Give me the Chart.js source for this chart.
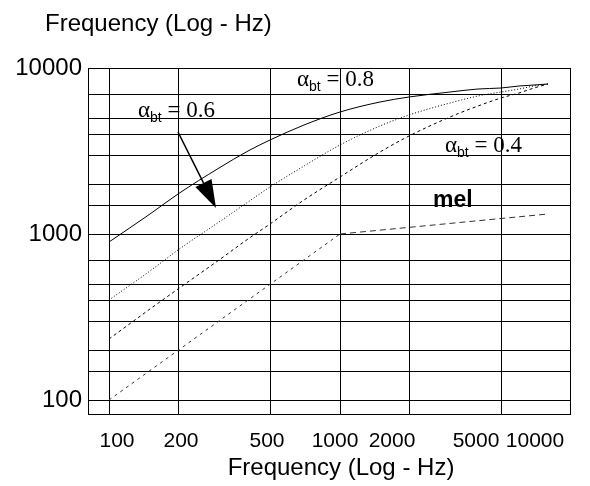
<!DOCTYPE html>
<html>
<head>
<meta charset="utf-8">
<script src="https://cdn.jsdelivr.net/npm/chart.js@4/dist/chart.umd.min.js"></script>
<style>
  body { margin: 0; background: #fff; }
  #wrap { width: 590px; height: 486px; }
</style>
</head>
<body>
<div id="wrap"><canvas id="warp-chart"></canvas></div>
<script>
// input frequencies (Hz) where the warped curves were read
const freqs = [100, 150, 200, 300, 400, 500, 700, 1000, 1500, 2000, 3000, 4000, 5000, 6000, 7000, 8000];
// warped frequency (Hz) for each alpha
const alpha08 = [891, 1320, 1731, 2485, 3138, 3695, 4553, 5405, 6214, 6665, 7161, 7436, 7623, 7766, 7887, 8000];
const alpha06 = [399, 597, 794, 1180, 1554, 1911, 2572, 3423, 4487, 5234, 6176, 6752, 7157, 7474, 7747, 8000];
const alpha04 = [233, 350, 466, 696, 925, 1151, 1590, 2213, 3136, 3913, 5097, 5938, 6579, 7105, 7567, 8000];
// mel curve: straight up to 1000 Hz then flattens out
const melFreqs = [100, 1000, 8000];
const melValues = [100, 1000, 1310];

const xTicks = [100, 200, 500, 1000, 2000, 5000, 10000];
const yTicks = [100, 150, 200, 300, 400, 500, 700, 1000, 1500, 2000, 3000, 4000, 5000, 7000, 10000];
const yLabels = [100, 1000, 10000];

// curve labels in data units (left edge, baseline)
const alphaLabels = [
  { text: '0.6', x: 133, y: 5090 },
  { text: '0.8', x: 652, y: 7820 },
  { text: '0.4', x: 2870, y: 3130 },
];
const melLabel = { text: 'mel', x: 2550, y: 1455 };
// arrow pointing from the 0.6 label to its curve
const arrowFrom = [200, 4130];
const arrowTo = [292, 1429];

const toPoints = (xs, ys) => xs.map((f, i) => ({ x: f, y: ys[i] }));

const SANS = '"Liberation Sans", Arial, sans-serif';
const SERIF = '"Liberation Serif", "Times New Roman", serif';

// the original x labels sit a little off their grid lines, more so on the right
const xLabelNudge = [8, 3, -3, -5, -17, -25, -35];

const annotations = {
  id: 'annotations',
  afterDraw(chart) {
    const { ctx, scales: { x, y } } = chart;
    ctx.save();
    ctx.fillStyle = '#000';
    ctx.strokeStyle = '#000';
    ctx.textAlign = 'left';
    ctx.textBaseline = 'alphabetic';

    alphaLabels.forEach(l => {
      let px = x.getPixelForValue(l.x);
      const py = y.getPixelForValue(l.y);
      ctx.font = '23px ' + SERIF;
      ctx.fillText('\u03b1', px, py);
      px += ctx.measureText('\u03b1').width;
      ctx.font = '14px ' + SANS;
      ctx.fillText('bt', px, py + 5);
      px += ctx.measureText('bt').width;
      ctx.font = '23px ' + SERIF;
      ctx.fillText(' = ' + l.text, px, py);
    });

    ctx.font = 'bold 23px ' + SANS;
    ctx.fillText(melLabel.text, x.getPixelForValue(melLabel.x), y.getPixelForValue(melLabel.y));

    // arrow
    const x0 = x.getPixelForValue(arrowFrom[0]), y0 = y.getPixelForValue(arrowFrom[1]);
    const x1 = x.getPixelForValue(arrowTo[0]), y1 = y.getPixelForValue(arrowTo[1]);
    const len = Math.hypot(x1 - x0, y1 - y0);
    const ux = (x1 - x0) / len, uy = (y1 - y0) / len;
    const headLen = 28, headHalf = 9;
    const bx = x1 - ux * headLen, by = y1 - uy * headLen;
    ctx.lineWidth = 1.5;
    ctx.beginPath();
    ctx.moveTo(x0, y0);
    ctx.lineTo(bx, by);
    ctx.stroke();
    ctx.beginPath();
    ctx.moveTo(x1, y1);
    ctx.lineTo(bx - uy * headHalf, by + ux * headHalf);
    ctx.lineTo(bx + uy * headHalf, by - ux * headHalf);
    ctx.closePath();
    ctx.fill();

    // x tick labels
    ctx.font = '21px ' + SANS;
    ctx.textAlign = 'center';
    x.ticks.forEach((t, i) => {
      const cx = x.getPixelForValue(t.value) + (xLabelNudge[i] || 0);
      ctx.fillText(String(t.value), cx, chart.chartArea.bottom + 33);
    });

    // axis titles
    ctx.font = '24px ' + SANS;
    ctx.textAlign = 'left';
    ctx.fillText('Frequency (Log - Hz)', 45, 31);
    ctx.textAlign = 'center';
    ctx.fillText('Frequency (Log - Hz)', 341, 475);
    ctx.restore();
  }
};

const lineDefaults = { borderColor: '#000', borderWidth: 1, pointRadius: 0, fill: false, cubicInterpolationMode: 'monotone' };

new Chart(document.getElementById('warp-chart'), {
  type: 'line',
  data: {
    datasets: [
      { ...lineDefaults, label: 'alpha 0.8', data: toPoints(freqs, alpha08) },
      { ...lineDefaults, label: 'alpha 0.6', data: toPoints(freqs, alpha06), borderDash: [1, 2] },
      { ...lineDefaults, label: 'alpha 0.4', data: toPoints(freqs, alpha04), borderDash: [3, 3] },
      {
        ...lineDefaults, label: 'mel', data: toPoints(melFreqs, melValues), borderColor: '#333',
        cubicInterpolationMode: 'default', tension: 0,
        segment: { borderDash: c => c.p0.parsed.x < 1000 ? [3, 4] : [6, 4] }
      },
    ]
  },
  options: {
    responsive: true,
    maintainAspectRatio: false,
    animation: false,
    layout: { padding: { top: 68, right: 20, bottom: 32, left: 0 } },
    plugins: { legend: { display: false }, tooltip: { enabled: false }, title: { display: false } },
    scales: {
      x: {
        type: 'logarithmic',
        min: 81,
        max: 10000,
        bounds: 'data',
        alignToPixels: true,
        afterBuildTicks: s => { s.ticks = xTicks.map(v => ({ value: v })); },
        afterFit: s => { s.height = 40; s.paddingLeft = 0; s.paddingRight = 0; },
        ticks: { display: false, autoSkip: false },
        grid: { color: '#000', lineWidth: 1, drawTicks: false },
        border: { color: '#000', width: 1 },
      },
      y: {
        type: 'logarithmic',
        min: 82,
        max: 10000,
        bounds: 'data',
        alignToPixels: true,
        afterBuildTicks: s => { s.ticks = yTicks.map(v => ({ value: v })); },
        afterFit: s => { s.width = 88; },
        ticks: { autoSkip: false, padding: 6, color: '#000', font: { family: SANS, size: 24 }, callback: v => yLabels.includes(v) ? String(v) : '' },
        grid: { color: '#000', lineWidth: 1, drawTicks: false },
        border: { color: '#000', width: 1 },
      }
    }
  },
  plugins: [annotations]
});
</script>
</body>
</html>
